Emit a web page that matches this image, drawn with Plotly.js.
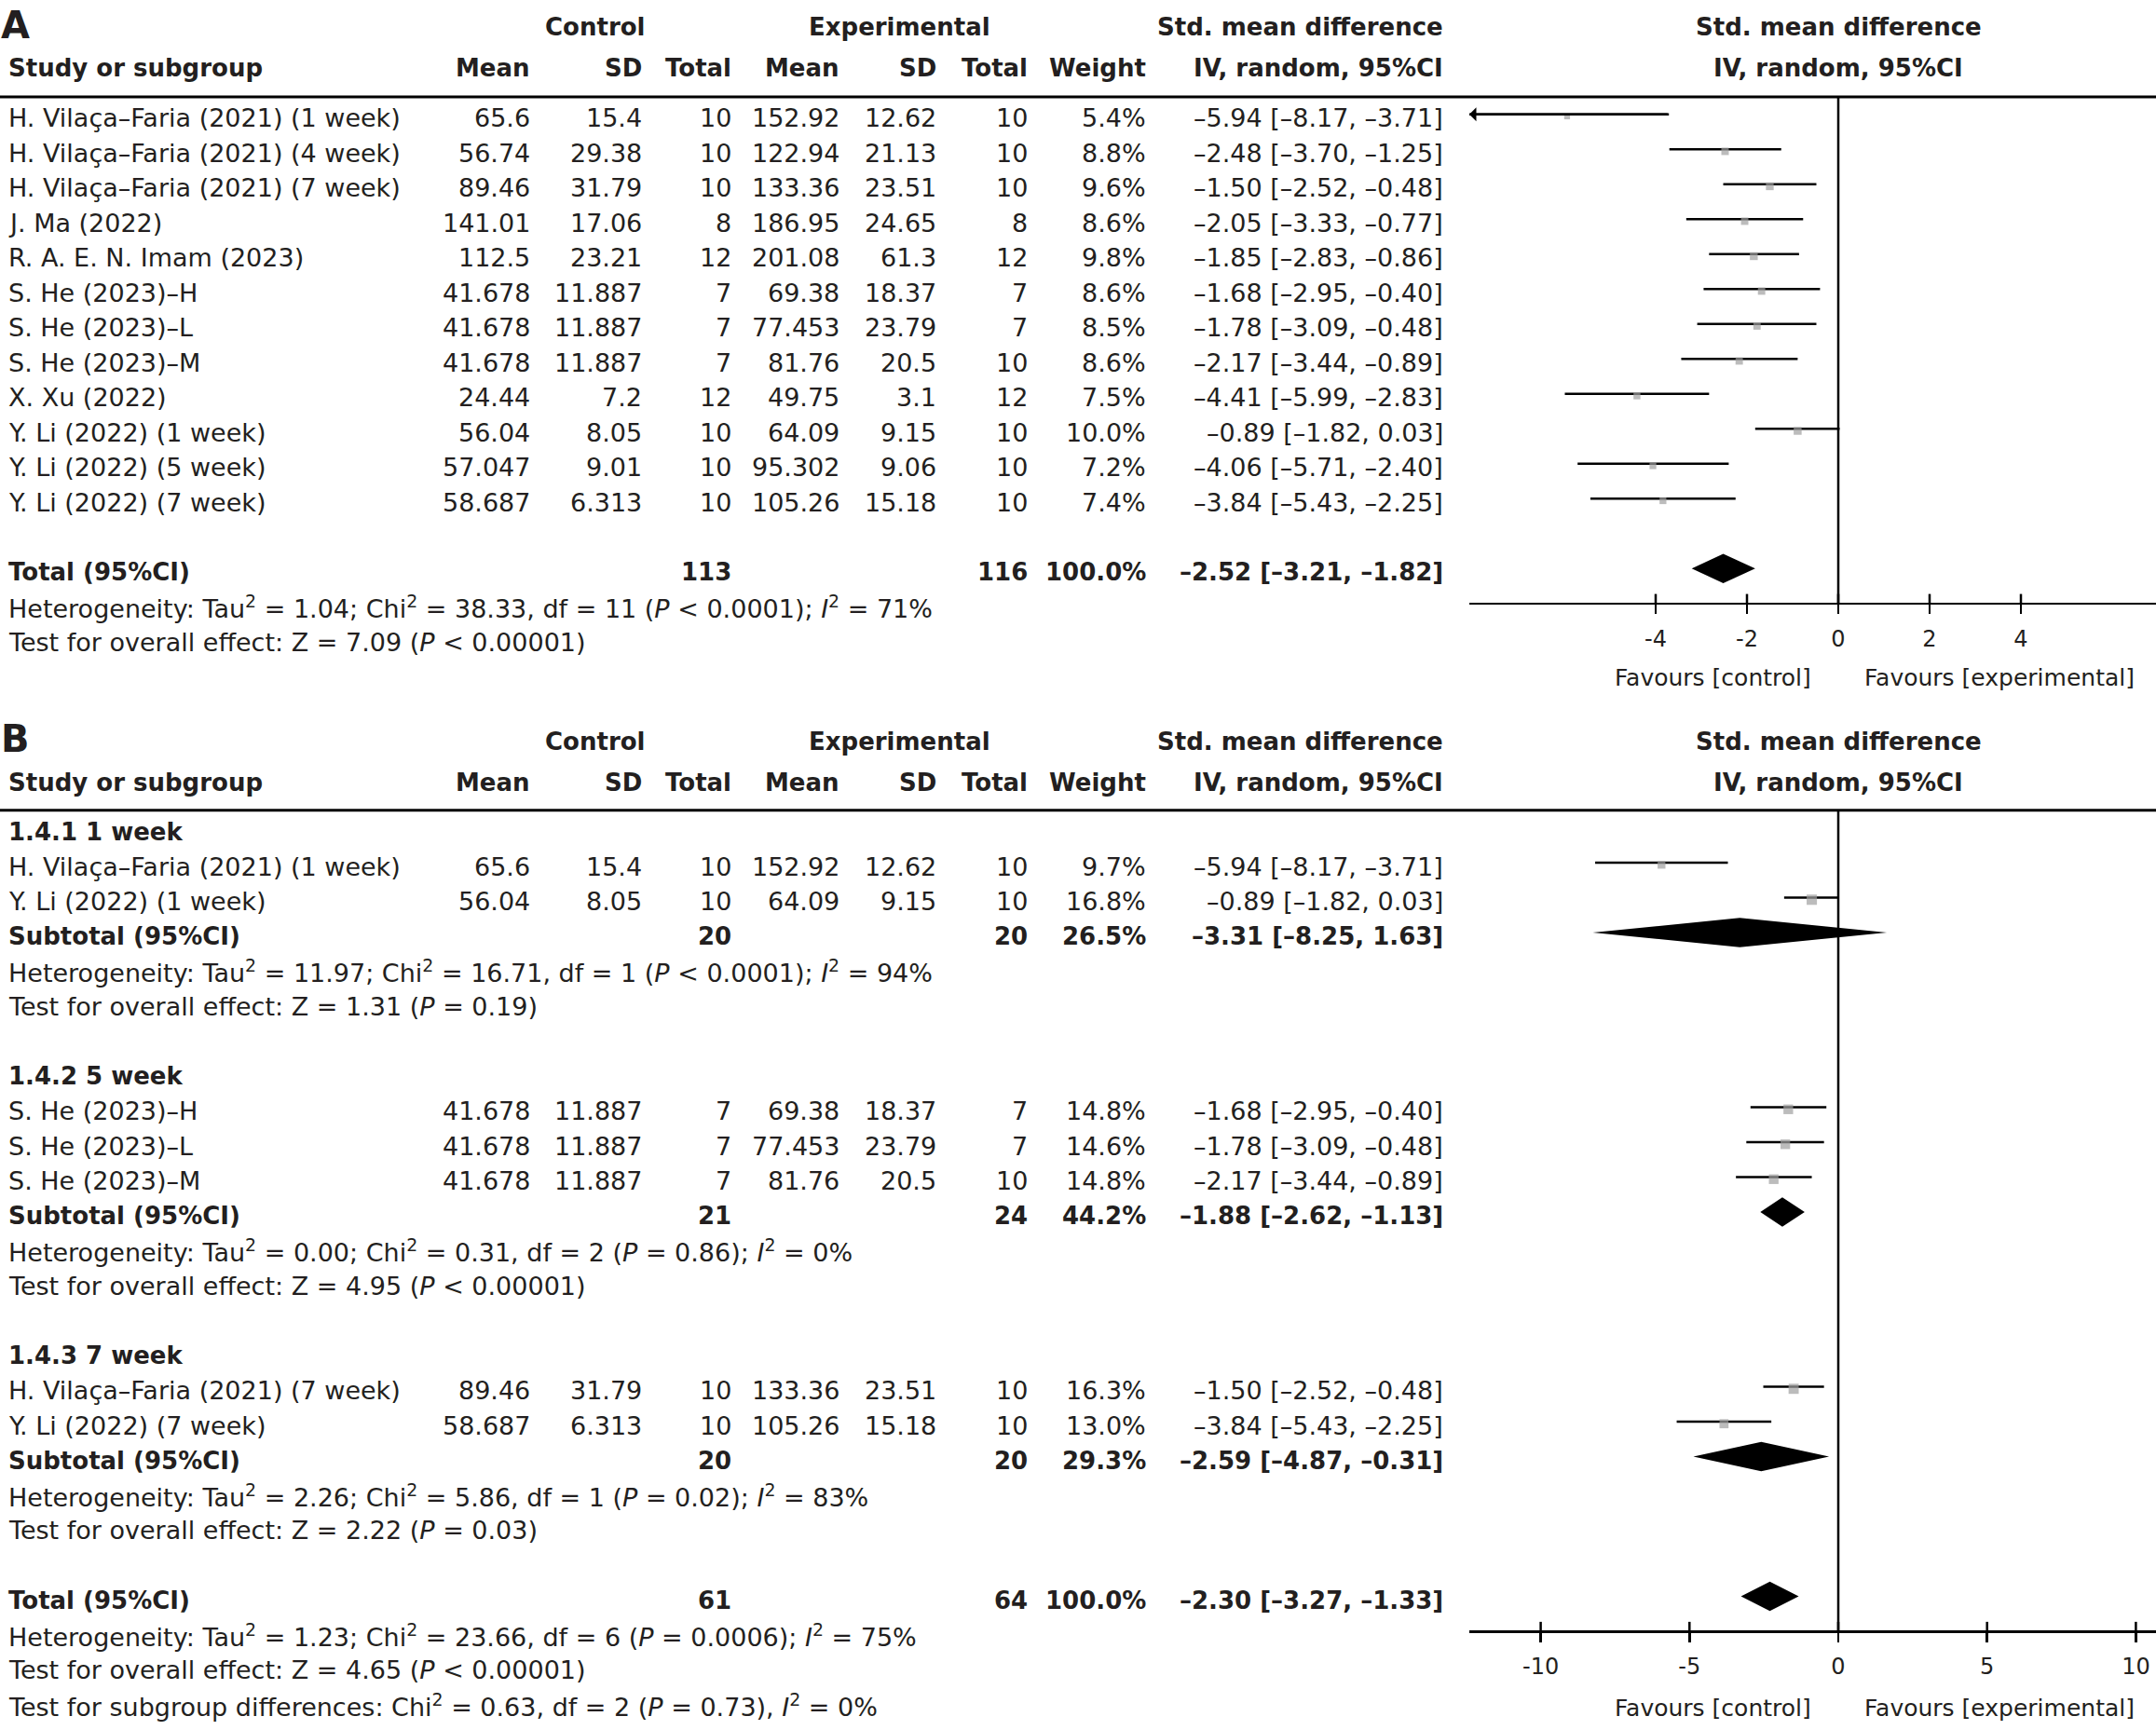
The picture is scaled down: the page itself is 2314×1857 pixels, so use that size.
<!DOCTYPE html>
<html><head><meta charset="utf-8">
<script src="https://cdn.plot.ly/plotly-3.0.1.min.js"></script>
<style>html,body{margin:0;padding:0;background:#fff}</style>
</head><body><div id="chart" style="width:2314px;height:1857px"></div>
<script>
// ---------------- Panel A data ----------------
const studiesA = ["H. Vilaça–Faria (2021) (1 week)", "H. Vilaça–Faria (2021) (4 week)", "H. Vilaça–Faria (2021) (7 week)",
  "J. Ma (2022)", "R. A. E. N. Imam (2023)", "S. He (2023)–H", "S. He (2023)–L", "S. He (2023)–M",
  "X. Xu (2022)", "Y. Li (2022) (1 week)", "Y. Li (2022) (5 week)", "Y. Li (2022) (7 week)"];
const ctrlMeanA = [65.6, 56.74, 89.46, 141.01, 112.5, 41.678, 41.678, 41.678, 24.44, 56.04, 57.047, 58.687];
const ctrlSdA = [15.4, 29.38, 31.79, 17.06, 23.21, 11.887, 11.887, 11.887, 7.2, 8.05, 9.01, 6.313];
const ctrlNA = [10, 10, 10, 8, 12, 7, 7, 7, 12, 10, 10, 10];
const expMeanA = [152.92, 122.94, 133.36, 186.95, 201.08, 69.38, 77.453, 81.76, 49.75, 64.09, 95.302, 105.26];
const expSdA = [12.62, 21.13, 23.51, 24.65, 61.3, 18.37, 23.79, 20.5, 3.1, 9.15, 9.06, 15.18];
const expNA = [10, 10, 10, 8, 12, 7, 7, 10, 12, 10, 10, 10];
const weightA = [5.4, 8.8, 9.6, 8.6, 9.8, 8.6, 8.5, 8.6, 7.5, 10.0, 7.2, 7.4];
const smdA = [-5.94, -2.48, -1.50, -2.05, -1.85, -1.68, -1.78, -2.17, -4.41, -0.89, -4.06, -3.84];
const loA = [-8.17, -3.70, -2.52, -3.33, -2.83, -2.95, -3.09, -3.44, -5.99, -1.82, -5.71, -5.43];
const hiA = [-3.71, -1.25, -0.48, -0.77, -0.86, -0.40, -0.48, -0.89, -2.83, 0.03, -2.40, -2.25];
const totalCtrlNA = 113, totalExpNA = 116, totalWeightA = 100.0;
const totalSmdA = -2.52, totalLoA = -3.21, totalHiA = -1.82;
const hetA = "Heterogeneity: Tau<sup>2</sup> = 1.04; Chi<sup>2</sup> = 38.33, df = 11 (<i>P</i> &lt; 0.0001); <i>I</i><sup>2</sup> = 71%";
const testA = "Test for overall effect: Z = 7.09 (<i>P</i> &lt; 0.00001)";
const ticksA = [-4, -2, 0, 2, 4];

// ---------------- Panel B data ----------------
const groupNamesB = ["1.4.1 1 week", "1.4.2 5 week", "1.4.3 7 week"];
const studiesB = ["H. Vilaça–Faria (2021) (1 week)", "Y. Li (2022) (1 week)",
  "S. He (2023)–H", "S. He (2023)–L", "S. He (2023)–M",
  "H. Vilaça–Faria (2021) (7 week)", "Y. Li (2022) (7 week)"];
const groupB = [0, 0, 1, 1, 1, 2, 2];
const ctrlMeanB = [65.6, 56.04, 41.678, 41.678, 41.678, 89.46, 58.687];
const ctrlSdB = [15.4, 8.05, 11.887, 11.887, 11.887, 31.79, 6.313];
const ctrlNB = [10, 10, 7, 7, 7, 10, 10];
const expMeanB = [152.92, 64.09, 69.38, 77.453, 81.76, 133.36, 105.26];
const expSdB = [12.62, 9.15, 18.37, 23.79, 20.5, 23.51, 15.18];
const expNB = [10, 10, 7, 7, 10, 10, 10];
const weightB = [9.7, 16.8, 14.8, 14.6, 14.8, 16.3, 13.0];
const smdB = [-5.94, -0.89, -1.68, -1.78, -2.17, -1.50, -3.84];
const loB = [-8.17, -1.82, -2.95, -3.09, -3.44, -2.52, -5.43];
const hiB = [-3.71, 0.03, -0.40, -0.48, -0.89, -0.48, -2.25];
const subCtrlNB = [20, 21, 20];
const subExpNB = [20, 24, 20];
const subWeightB = [26.5, 44.2, 29.3];
const subSmdB = [-3.31, -1.88, -2.59];
const subLoB = [-8.25, -2.62, -4.87];
const subHiB = [1.63, -1.13, -0.31];
const subHetB = [
  "Heterogeneity: Tau<sup>2</sup> = 11.97; Chi<sup>2</sup> = 16.71, df = 1 (<i>P</i> &lt; 0.0001); <i>I</i><sup>2</sup> = 94%",
  "Heterogeneity: Tau<sup>2</sup> = 0.00; Chi<sup>2</sup> = 0.31, df = 2 (<i>P</i> = 0.86); <i>I</i><sup>2</sup> = 0%",
  "Heterogeneity: Tau<sup>2</sup> = 2.26; Chi<sup>2</sup> = 5.86, df = 1 (<i>P</i> = 0.02); <i>I</i><sup>2</sup> = 83%"];
const subTestB = [
  "Test for overall effect: Z = 1.31 (<i>P</i> = 0.19)",
  "Test for overall effect: Z = 4.95 (<i>P</i> &lt; 0.00001)",
  "Test for overall effect: Z = 2.22 (<i>P</i> = 0.03)"];
const totalCtrlNB = 61, totalExpNB = 64, totalWeightB = 100.0;
const totalSmdB = -2.30, totalLoB = -3.27, totalHiB = -1.33;
const hetB = "Heterogeneity: Tau<sup>2</sup> = 1.23; Chi<sup>2</sup> = 23.66, df = 6 (<i>P</i> = 0.0006); <i>I</i><sup>2</sup> = 75%";
const testB = "Test for overall effect: Z = 4.65 (<i>P</i> &lt; 0.00001)";
const subgroupTestB = "Test for subgroup differences: Chi<sup>2</sup> = 0.63, df = 2 (<i>P</i> = 0.73), <i>I</i><sup>2</sup> = 0%";
const ticksB = [-10, -5, 0, 5, 10];

// ---------------- layout geometry ----------------
const W = 2314, H = 1857;
const pxRow = 37.5, yA0 = 85.2, yB0 = 888.5;
const zeroPx = 1973, leftPx = 1577, unitA = 49, unitB = 31.94;
const xRangeA = [(leftPx - zeroPx) / unitA, (W - zeroPx) / unitA];
const xRangeB = [(leftPx - zeroPx) / unitB, (W - zeroPx) / unitB];
const FONT = "DejaVu Sans, Verdana, sans-serif";
const TC = "#231f20";
const TXT = 0.11;
const COL = {left: 8, ctrlMean: 570, ctrlSd: 690, ctrlN: 786, expMean: 902, expSd: 1006, expN: 1104, weight: 1231, ci: 1550, ctrlHdr: 638, expHdr: 965};
const REG = 27, BOLD = 26;

const d = v => v.toFixed(2).replace("-", "–");
const ciText = (m, l, h) => d(m) + " [" + d(l) + ", " + d(h) + "]";
const b = s => "<b>" + s + "</b>";

const ann = [];
function txt(text, xPx, row, yref, xanchor, size) {
  ann.push({text: text, x: xPx / W, xref: "paper", y: row + TXT, yref: yref, xanchor: xanchor, yanchor: "middle",
    showarrow: false, borderpad: 0, font: {family: FONT, size: size, color: TC}});
}
function headers(yref, xref, rowTop, rowSub, letter) {
  ann.push({text: "<b>" + letter + "</b>", x: 0, xref: "paper", y: rowTop + 0.04, yref: yref, xanchor: "left", yanchor: "middle",
    showarrow: false, borderpad: 0, font: {family: FONT, size: 40, color: TC}});
  txt(b("Control"), COL.ctrlHdr, rowTop, yref, "center", BOLD);
  txt(b("Experimental"), COL.expHdr, rowTop, yref, "center", BOLD);
  txt(b("Std. mean difference"), COL.ci, rowTop, yref, "right", BOLD);
  txt(b("Study or subgroup"), COL.left, rowSub, yref, "left", BOLD);
  txt(b("Mean"), COL.ctrlMean, rowSub, yref, "right", BOLD);
  txt(b("SD"), COL.ctrlSd, rowSub, yref, "right", BOLD);
  txt(b("Total"), COL.ctrlN, rowSub, yref, "right", BOLD);
  txt(b("Mean"), COL.expMean, rowSub, yref, "right", BOLD);
  txt(b("SD"), COL.expSd, rowSub, yref, "right", BOLD);
  txt(b("Total"), COL.expN, rowSub, yref, "right", BOLD);
  txt(b("Weight"), COL.weight, rowSub, yref, "right", BOLD);
  txt(b("IV, random, 95%CI"), COL.ci, rowSub, yref, "right", BOLD);
  [[rowTop, "Std. mean difference"], [rowSub, "IV, random, 95%CI"]].forEach(p => {
    ann.push({text: b(p[1]), x: 0, xref: xref, y: p[0] + TXT, yref: yref, xanchor: "center", yanchor: "middle",
      showarrow: false, borderpad: 0, font: {family: FONT, size: BOLD, color: TC}});
  });
}
function studyRow(yref, r, name, cm, cs, cn, em, es, en, w, m, l, h) {
  txt(name, COL.left, r, yref, "left", REG);
  txt(String(cm), COL.ctrlMean, r, yref, "right", REG);
  txt(String(cs), COL.ctrlSd, r, yref, "right", REG);
  txt(String(cn), COL.ctrlN, r, yref, "right", REG);
  txt(String(em), COL.expMean, r, yref, "right", REG);
  txt(String(es), COL.expSd, r, yref, "right", REG);
  txt(String(en), COL.expN, r, yref, "right", REG);
  txt(w.toFixed(1) + "%", COL.weight, r, yref, "right", REG);
  txt(ciText(m, l, h), COL.ci, r, yref, "right", REG);
}
function pooledRow(yref, r, label, cn, en, w, m, l, h) {
  txt(b(label), COL.left, r, yref, "left", BOLD);
  txt(b(String(cn)), COL.ctrlN, r, yref, "right", BOLD);
  txt(b(String(en)), COL.expN, r, yref, "right", BOLD);
  txt(b(w.toFixed(1) + "%"), COL.weight, r, yref, "right", BOLD);
  txt(b(ciText(m, l, h)), COL.ci, r, yref, "right", BOLD);
}

const traces = [];
const shapes = [];
function ciTrace(xa, ya, rows, lo, hi, est, w, xmin) {
  const lx = [], ly = [];
  rows.forEach((r, i) => { lx.push(Math.max(lo[i], xmin), hi[i], null); ly.push(r, r, null); });
  traces.push({type: "scatter", mode: "lines", x: lx, y: ly, xaxis: xa, yaxis: ya, hoverinfo: "skip",
    line: {color: "#000", width: 2.5}});
  traces.push({type: "scatter", mode: "markers", x: est, y: rows.map(r => r + 0.06), xaxis: xa, yaxis: ya, hoverinfo: "skip",
    marker: {symbol: "square", color: "#a0a0a0", size: w.map(v => 2.7 * Math.sqrt(v)), line: {width: 0}}});
  rows.forEach((r, i) => {
    if (lo[i] < xmin) {
      ann.push({x: xmin, y: r, xref: xa, yref: ya, ax: hi[i], ay: r, axref: xa, ayref: ya, text: "",
        showarrow: true, arrowhead: 1, arrowwidth: 2.5, arrowsize: 1, arrowcolor: "#000", standoff: 0});
    }
  });
}
function diamondTrace(xa, ya, rows, est, lo, hi) {
  const x = [], y = [];
  rows.forEach((r, i) => { x.push(lo[i], est[i], hi[i], est[i], lo[i], null); y.push(r, r - 0.42, r, r + 0.42, r, null); });
  traces.push({type: "scatter", mode: "lines", x: x, y: y, xaxis: xa, yaxis: ya, fill: "toself", fillcolor: "#000",
    line: {width: 0, color: "#000"}, hoverinfo: "skip"});
}
function tickTrace(xa, ya, ticks, r) {
  const x = [], y = [];
  ticks.forEach(t => { x.push(t, t, null); y.push(r - 0.27, r, null); });
  traces.push({type: "scatter", mode: "lines", x: x, y: y, xaxis: xa, yaxis: ya, hoverinfo: "skip", line: {color: "#000", width: 2.5}});
}
function favours(xa, ya, r) {
  ann.push({text: "Favours [control]", x: 0, xref: xa, y: r, yref: ya, xanchor: "right", yanchor: "middle", xshift: -28,
    showarrow: false, borderpad: 0, font: {family: FONT, size: 25, color: TC}});
  ann.push({text: "Favours [experimental]", x: 0, xref: xa, y: r, yref: ya, xanchor: "left", yanchor: "middle", xshift: 27,
    showarrow: false, borderpad: 0, font: {family: FONT, size: 25, color: TC}});
}

// ---------------- Panel A ----------------
headers("y", "x", -1.6, -0.43, "A");
const rowsA = studiesA.map((s, i) => i + 1);
studiesA.forEach((s, i) => studyRow("y", rowsA[i], s, ctrlMeanA[i], ctrlSdA[i], ctrlNA[i], expMeanA[i], expSdA[i], expNA[i], weightA[i], smdA[i], loA[i], hiA[i]));
const totalRowA = rowsA.length + 2;
pooledRow("y", totalRowA, "Total (95%CI)", totalCtrlNA, totalExpNA, totalWeightA, totalSmdA, totalLoA, totalHiA);
txt(hetA, COL.left, totalRowA + 1, "y", "left", REG);
txt(testA, COL.left, totalRowA + 2, "y", "left", REG);
const axisRowA = totalRowA + 1;
ciTrace("x", "y", rowsA, loA, hiA, smdA, weightA, xRangeA[0]);
diamondTrace("x", "y", [totalRowA], [totalSmdA], [totalLoA], [totalHiA]);
tickTrace("x", "y", ticksA, axisRowA);
favours("x", "y", axisRowA + 2.12);
shapes.push({type: "line", xref: "paper", x0: 0, x1: 1, yref: "y", y0: 0.5, y1: 0.5, line: {color: "#000", width: 3}});
shapes.push({type: "line", xref: "x", x0: 0, x1: 0, yref: "y", y0: 0.5, y1: axisRowA, line: {color: "#000", width: 2.5}, layer: "below"});

// ---------------- Panel B ----------------
headers("y2", "x2", -2.58, -1.41, "B");
let r = 0;
const rowsB = [], subRowsB = [];
groupNamesB.forEach((g, gi) => {
  txt(b(g), COL.left, r, "y2", "left", BOLD); r++;
  studiesB.forEach((s, i) => {
    if (groupB[i] !== gi) return;
    rowsB[i] = r;
    studyRow("y2", r, s, ctrlMeanB[i], ctrlSdB[i], ctrlNB[i], expMeanB[i], expSdB[i], expNB[i], weightB[i], smdB[i], loB[i], hiB[i]);
    r++;
  });
  subRowsB[gi] = r;
  pooledRow("y2", r, "Subtotal (95%CI)", subCtrlNB[gi], subExpNB[gi], subWeightB[gi], subSmdB[gi], subLoB[gi], subHiB[gi]); r++;
  txt(subHetB[gi], COL.left, r, "y2", "left", REG); r++;
  txt(subTestB[gi], COL.left, r, "y2", "left", REG); r++;
  r++;
});
const totalRowB = r;
pooledRow("y2", totalRowB, "Total (95%CI)", totalCtrlNB, totalExpNB, totalWeightB, totalSmdB, totalLoB, totalHiB);
txt(hetB, COL.left, totalRowB + 1, "y2", "left", REG);
txt(testB, COL.left, totalRowB + 2, "y2", "left", REG);
txt(subgroupTestB, COL.left, totalRowB + 3, "y2", "left", REG);
const axisRowB = totalRowB + 1;
ciTrace("x2", "y2", rowsB, loB, hiB, smdB, weightB, xRangeB[0]);
diamondTrace("x2", "y2", subRowsB.concat([totalRowB]), subSmdB.concat([totalSmdB]), subLoB.concat([totalLoB]), subHiB.concat([totalHiB]));
tickTrace("x2", "y2", ticksB, axisRowB);
favours("x2", "y2", axisRowB + 2.2);
shapes.push({type: "line", xref: "paper", x0: 0, x1: 1, yref: "y2", y0: -0.5, y1: -0.5, line: {color: "#000", width: 3}});
shapes.push({type: "line", xref: "x2", x0: 0, x1: 0, yref: "y2", y0: -0.5, y1: axisRowB, line: {color: "#000", width: 2.5}, layer: "below"});

// ---------------- axes ----------------
const paperY = (y0, row) => 1 - (y0 + row * pxRow) / H;
function xAxis(range, ticks, pos) {
  return {domain: [leftPx / W, 1], range: range, anchor: "free", position: pos, showline: true, linewidth: 2.5, linecolor: "#000",
    ticks: "outside", ticklen: 10, tickwidth: 2.5, tickcolor: "#000", tickvals: ticks, ticktext: ticks.map(String),
    tickfont: {family: FONT, size: 24, color: TC}, ticklabelstandoff: 6, showgrid: false, zeroline: false, fixedrange: true};
}
const layout = {
  width: W, height: H, margin: {l: 0, r: 0, t: 0, b: 0, pad: 0},
  paper_bgcolor: "#fff", plot_bgcolor: "rgba(0,0,0,0)", showlegend: false,
  xaxis: xAxis(xRangeA, ticksA, paperY(yA0, axisRowA)),
  xaxis2: xAxis(xRangeB, ticksB, paperY(yB0, axisRowB)),
  yaxis: {domain: [0, 1], range: [(H - yA0) / pxRow, -yA0 / pxRow], visible: false, anchor: "free", position: 0, fixedrange: true},
  yaxis2: {domain: [0, 1], range: [(H - yB0) / pxRow, -yB0 / pxRow], visible: false, anchor: "free", position: 0, fixedrange: true},
  annotations: ann, shapes: shapes
};
Plotly.newPlot("chart", traces, layout, {staticPlot: true, displayModeBar: false});
</script></body></html>
